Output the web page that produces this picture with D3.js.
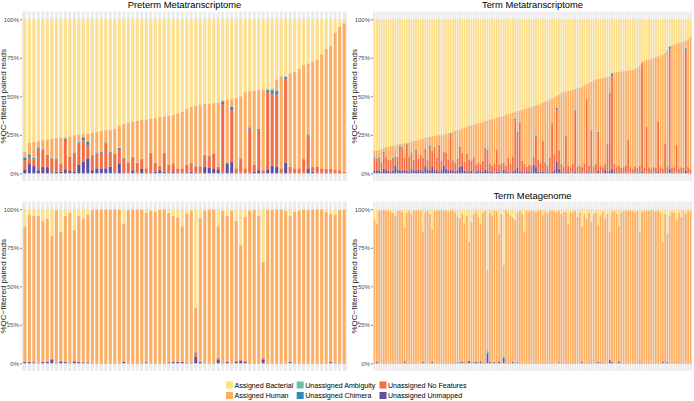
<!DOCTYPE html>
<html>
<head>
<meta charset="utf-8">
<script src="https://cdn.jsdelivr.net/npm/d3@7"></script>
<style>
  body { margin: 0; background: #fff; }
  text { font-family: "Liberation Sans", Arial, Helvetica, sans-serif; }
</style>
</head>
<body>
<svg id="chart" width="694" height="401"></svg>
<script>
// stacking order, bottom -> top
const categories = ["Unassigned Unmapped", "Unassigned No Features", "Unassigned Chimera",
  "Unassigned Ambiguity", "Assigned Human", "Assigned Bacterial"]
const legendOrder = ["Assigned Bacterial", "Assigned Human", "Unassigned Ambiguity",
  "Unassigned Chimera", "Unassigned No Features", "Unassigned Unmapped"]
const palette = {
  "Assigned Bacterial": "#FEE08B",
  "Assigned Human": "#FDAE61",
  "Unassigned Ambiguity": "#66C2A5",
  "Unassigned Chimera": "#3288BD",
  "Unassigned No Features": "#F46D43",
  "Unassigned Unmapped": "#5E4FA2"
}
const yTicks = [0, 25, 50, 75, 100]

// Preterm Metatranscriptome (% of reads), human = remainder
const ptBacterial = [86, 80.2, 79.6, 79.1, 78.5, 78, 77.4, 77, 76.8, 76.3, 76, 75.3, 74.8, 74.5, 74.2, 73.7, 73, 72.5, 72, 71.5,
  71, 69, 68, 67.3, 66.7, 66, 65.4, 65, 64.4, 64, 63.4, 63, 62.5, 62, 61.2, 60.2, 58, 57, 56, 55.3,
  55, 54.7, 54.4, 54, 52.5, 52.2, 51.6, 51, 50, 47.3, 46.7, 46.2, 46, 45.4, 45, 44.8, 39, 37, 36.6, 35,
  34, 32.3, 29.5, 28.6, 27.3, 26.5, 22.6, 19, 17.2, 8.6, 5, 2.5]
const ptUnmapped = [2.6, 6, 5, 2, 4.3, 4, 0.6, 1, 1, 2.6, 1.5, 1, 5.4, 7.5, 9.7, 2, 3.2, 3.2, 3.2, 4.3,
  0.6, 6.5, 0.6, 0.3, 2, 0.4, 2.8, 0.3, 0.6, 1, 2, 1, 0.4, 0.8, 0.4, 0.4, 0.6, 1, 0.4, 0.4,
  4.3, 3.7, 2.8, 2.6, 0.4, 6, 7.5, 0.6, 0.4, 0.4, 0.4, 1, 2, 0.6, 2.6, 5, 4.3, 0.4, 7, 0.4,
  0.3, 0.3, 0.4, 3.2, 1, 0.4, 0.4, 0.6, 0.4, 0.3, 0.2, 0.1]
const ptNoFeatures = [6, 4.7, 4, 14, 10.7, 7.4, 8.9, 8, 5, 18.9, 8.5, 12, 14, 14, 8.6, 9, 9.8, 10.1, 16.2, 9,
  11.9, 8.5, 9.1, 6.6, 8.3, 6.1, 6.2, 2.9, 12.4, 5.5, 2.7, 12, 5, 5.2, 2.8, 2.8, 4.8, 5.5, 3.9, 3.9,
  7.1, 7.3, 9.7, 1.7, 44.6, 1, 33.5, 2.6, 9.3, 2.8, 28.6, 4.4, 26, 1.4, 50.1, 46.6, 46.7, 2.8, 54, 3.9,
  2.9, 2.9, 8.8, 21.5, 3.3, 3.9, 2.8, 2.4, 2.4, 2.2, 1.8, 0.9]
const ptChimera = [1.5, 1.3, 0.9, 0.7, 0.5, 0.6, 0.3, 0.3, 0, 0.8, 0.5, 0.4, 0.7, 1.8, 2.2, 0.7, 0.4, 0.5, 0.6, 0.5,
  0, 1.3, 0.4, 0, 0.3, 0.3, 0.3, 0, 0.3, 0.3, 0, 0.3, 0, 0.3, 0, 0, 0, 0.3, 0.2, 0.2,
  0.4, 0.4, 0.3, 0, 1.6, 0, 2.1, 0, 0, 0, 0.7, 0, 0.7, 0, 1.3, 2.4, 2.4, 0, 1.4, 0,
  0, 0, 0, 0.5, 0, 0, 0, 0, 0, 0, 0, 0]
const ptAmbiguity = [0.6, 0.5, 0.4, 0.3, 0.2, 0.2, 0.2, 0.2, 0, 0.3, 0.2, 0.2, 0.3, 0.4, 0.4, 0.3, 0.2, 0.2, 0.2, 0.2,
  0, 0.3, 0.2, 0, 0.1, 0.2, 0.2, 0, 0.2, 0.2, 0, 0.2, 0, 0.2, 0, 0, 0, 0.2, 0.2, 0.2,
  0.2, 0.2, 0.2, 0, 0.4, 0, 0.4, 0, 0, 0, 0.3, 0, 0.3, 0, 0.4, 0.4, 0.4, 0, 0.4, 0,
  0, 0, 0, 0.2, 0, 0, 0, 0, 0, 0, 0, 0]

// Term Metatranscriptome
const trBacterial = [85.5, 85.4, 85, 84.4, 83.6, 83, 82.8, 82.2, 82, 81.8, 81.2, 80.8, 80.7, 80.2, 80, 79.8, 79.4, 78.9, 78.8, 78.3,
  78, 77.4, 77, 76.8, 76.4, 76, 75.8, 75.4, 75.2, 75.1, 74.7, 74.3, 74, 73.8, 73.1, 72.5, 71.9, 71.4, 70.9, 70.2,
  69.6, 69.3, 68.8, 68.4, 67.9, 67.5, 67.1, 66.5, 66, 65.7, 65.2, 64.7, 64.4, 64, 63.4, 63, 62.5, 61.9, 61.5, 61.1,
  60.5, 59.9, 59.6, 59.2, 58.7, 58.2, 57.9, 57.6, 57, 56.3, 55.8, 55.3, 54.6, 53.9, 53.4, 52.7, 51.9, 51.3, 50.4, 49.5,
  48.9, 48, 47.2, 46.9, 46.4, 45.9, 45.7, 45.2, 44.8, 44.5, 43.8, 42.8, 42.2, 41.2, 40.6, 39.7, 38.9, 38.7, 38.1, 37.9,
  37.7, 37.2, 36.9, 34.5, 34.4, 34.2, 34, 33.8, 33.7, 33.5, 33.2, 33, 32.8, 32.2, 31.4, 30, 27.6, 27, 26.4, 26,
  25.6, 24.9, 24.5, 24, 23.4, 23, 21.9, 20, 17.4, 17, 16.4, 16, 15.5, 14.9, 14.5, 14, 12.9, 11.4]
const trUnmapped = [1.5, 2, 1.8, 1.2, 3, 2, 1.5, 1, 1.8, 5, 2.5, 2, 1.5, 2.2, 1.8, 1.2, 2.6, 2, 1.5, 2.5,
  2, 1.2, 4.5, 2.5, 1.8, 4.3, 2.2, 1.5, 1.2, 2, 5, 3, 1.5, 2.5, 1.8, 1.2, 2, 4.3, 5, 1.8,
  1.2, 0.8, 1.5, 0.6, 1, 2, 1.3, 0.8, 2.5, 1.5, 1, 0.8, 0.6, 1.2, 0.8, 0.5, 2.5, 0.8, 1.2, 0.6,
  0.8, 1.5, 3.5, 1.2, 0.8, 0.6, 0.8, 1, 0.5, 5.5, 4, 1, 0.8, 1.2, 0.6, 0.8, 0.5, 1, 2, 7.5,
  3, 0.8, 0.6, 0.5, 0.8, 0.6, 0.5, 0.8, 0.4, 0.6, 0.5, 0.4, 0.8, 0.5, 0.6, 0.4, 0.5, 1.5, 0.6, 0.4,
  2, 0.8, 1.8, 3, 0.8, 0.5, 0.4, 0.6, 0.4, 0.5, 0.4, 0.3, 0.5, 0.4, 0.6, 0.4, 1.2, 0.5, 0.3, 0.4,
  0.5, 0.3, 0.4, 0.8, 0.4, 0.3, 0.5, 0.4, 3, 0.5, 0.4, 0.6, 0.3, 0.4, 0.5, 1.5, 0.4, 0.3]
const trNoFeatures = [8, 6.5, 8, 5.8, 10.3, 8.5, 7.5, 7.5, 7.7, 6, 8, 14.5, 14.5, 7.8, 16.7, 9.8, 10.4, 7, 13, 7,
  10, 8.8, 11, 6, 15.2, 10.2, 13.8, 8.5, 16.8, 6, 9, 10.5, 7.5, 22.2, 6.7, 5.8, 7.5, 12.2, 8, 5.7,
  11.8, 8.2, 6.5, 9.9, 4.5, 5, 4.7, 7.2, 13.5, 14, 5.5, 4.2, 5.9, 13.8, 4.7, 6, 4.5, 4.2, 8.8, 5.4,
  10.2, 32.9, 22.3, 31.1, 7.2, 5.4, 3.7, 4.5, 4.5, 5.5, 19.7, 8, 5.7, 19.2, 6.4, 4.2, 9.5, 31, 10, 33.4,
  12, 5.2, 3.9, 23.2, 4.2, 3.4, 5.5, 39.6, 4.1, 4.4, 3.5, 5.6, 46.9, 4.5, 27.4, 4.1, 5.5, 24.5, 4.4, 3.6,
  4, 18.6, 50.2, 59.8, 5.2, 3.5, 4.6, 2.9, 3.6, 4.5, 21.1, 3.7, 2.5, 4.1, 2.9, 4.6, 69.8, 3, 30.2, 3.6,
  2.5, 3.7, 3.1, 32.5, 3.6, 2.7, 18.9, 3.6, 77.6, 3, 3.6, 17.7, 2.7, 3.6, 3, 79.1, 3.6, 2.3]
const trChimera = [0.7, 0.7, 0.6, 0, 0.7, 0, 0, 0, 0.5, 0, 0, 0.8, 0.8, 0, 0.4, 0, 0.5, 0, 0.6, 0,
  0, 0, 0.5, 0, 0.8, 0, 0.8, 0, 0.4, 0, 0, 0, 0, 1.2, 0, 0, 0, 0.6, 0, 0,
  0, 0, 0, 0, 0, 0, 0, 0, 0.5, 0, 0, 0, 0, 0.4, 0, 0, 0, 0, 0, 0,
  0, 1, 0.9, 0.8, 0, 0, 0, 0, 0, 0, 0.8, 0, 0, 0.4, 0, 0, 0, 0.5, 0, 1.6,
  0, 0, 0, 0.4, 0, 0, 0, 0.5, 0, 0, 0, 0, 0.4, 0, 0, 0, 0, 0.8, 0, 0,
  0, 0, 0.4, 2, 0, 0, 0, 0, 0, 0, 0, 0, 0, 0, 0, 0, 0.4, 0, 0, 0,
  0, 0, 0, 0.3, 0, 0, 0, 0, 1.6, 0, 0, 0, 0, 0, 0, 0.7, 0, 0]
const trAmbiguity = [0.3, 0.3, 0.3, 0, 0.3, 0, 0, 0, 0.2, 0, 0, 0.3, 0.3, 0, 0.2, 0, 0.2, 0, 0.2, 0,
  0, 0, 0.2, 0, 0.3, 0, 0.3, 0, 0.2, 0, 0, 0, 0, 0.3, 0, 0, 0, 0.3, 0, 0,
  0, 0, 0, 0, 0, 0, 0, 0, 0.2, 0, 0, 0, 0, 0.2, 0, 0, 0, 0, 0, 0,
  0, 0.3, 0.3, 0.3, 0, 0, 0, 0, 0, 0, 0.3, 0, 0, 0.2, 0, 0, 0, 0.2, 0, 0.4,
  0, 0, 0, 0.2, 0, 0, 0, 0.2, 0, 0, 0, 0, 0.2, 0, 0, 0, 0, 0.3, 0, 0,
  0, 0, 0.2, 0.5, 0, 0, 0, 0, 0, 0, 0, 0, 0, 0, 0, 0, 0.2, 0, 0, 0,
  0, 0, 0, 0.1, 0, 0, 0, 0, 0.3, 0, 0, 0, 0, 0, 0, 0.2, 0, 0]

// Preterm Metagenome (untitled panel)
const pgBacterial = [11.4, 3.5, 4.3, 4.5, 7.6, 6, 17.3, 0.6, 14.7, 4.3, 2.4, 13.6, 4.5, 6, 3.5, 0.6, 0.2, 0.2, 0.2, 0.2,
  0.2, 0.2, 9.3, 0.6, 0.2, 0.2, 0.2, 2.4, 1.2, 1.7, 0.6, 0.2, 2.4, 4.3, 5.4, 11, 2.8, 1, 63.7, 5.4,
  1, 0.2, 0.2, 11, 1, 4.3, 1, 7.6, 23.3, 5, 1, 0.6, 4.3, 34.1, 0.6, 0.2, 0.2, 0.2, 1, 4.3,
  1.7, 1, 0.2, 0.6, 0.2, 0.2, 0.2, 1.7, 2.8, 3.5, 0.6, 0.2]
const pgUnmapped = [0.8, 0.8, 0.6, 0.3, 0.8, 1, 2.5, 0.3, 1.2, 0.8, 0.4, 1.2, 0.8, 0.6, 0.6, 0.2, 0.2, 0.2, 0.2, 0.2,
  0.2, 0.2, 1, 0.2, 0.2, 0.2, 0.2, 0.6, 0.2, 0.2, 0.2, 0.2, 0.6, 0.8, 0.8, 0.8, 0.4, 0.3, 4.3, 0.8,
  0.3, 0.2, 0.2, 2.5, 0.3, 0.8, 0.2, 1, 1.5, 1, 0.3, 0.2, 0.2, 2.5, 0.2, 0.2, 0.2, 0.2, 0.2, 0.8,
  0.2, 0.2, 0.2, 0.2, 0.2, 0.2, 0.2, 0.2, 0.8, 0.4, 0.2, 0.2]
const pgNoFeatures = [0.2, 0.2, 0.2, 0.1, 0.2, 0.2, 0.4, 0.1, 0.2, 0.2, 0.1, 0.2, 0.2, 0.1, 0.1, 0.1, 0.1, 0.1, 0.1, 0.1,
  0.1, 0.1, 0.2, 0.1, 0.1, 0.1, 0.1, 0.1, 0.1, 0.1, 0.1, 0.1, 0.1, 0.2, 0.2, 0.2, 0.1, 0.1, 2.5, 0.2,
  0.1, 0.1, 0.1, 1, 0.1, 0.2, 0.1, 0.4, 0.5, 0.2, 0.1, 0.1, 0.1, 1, 0.1, 0.1, 0.1, 0.1, 0.1, 0.2,
  0.1, 0.1, 0.1, 0.1, 0.1, 0.1, 0.1, 0.1, 0.2, 0.1, 0.1, 0.1]
const pgChimera = [0, 0, 0, 0, 0, 0, 0, 0, 0, 0, 0, 0, 0, 0, 0, 0, 0, 0, 0, 0,
  0, 0, 0, 0, 0, 0, 0, 0, 0, 0, 0, 0, 0, 0, 0, 0, 0, 0, 0.3, 0,
  0, 0, 0, 0, 0, 0, 0, 0, 0, 0, 0, 0, 0, 0, 0, 0, 0, 0, 0, 0,
  0, 0, 0, 0, 0, 0, 0, 0, 0, 0, 0, 0]
const pgAmbiguity = [0, 0, 0, 0, 0, 0, 0, 0, 0, 0, 0, 0, 0, 0, 0, 0, 0, 0, 0, 0,
  0, 0, 0, 0, 0, 0, 0, 0, 0, 0, 0, 0, 0, 0, 0, 0, 0, 0, 0.6, 0,
  0, 0, 0, 0.2, 0, 0, 0, 0, 0, 0, 0, 0, 0, 0.2, 0, 0, 0, 0, 0, 0,
  0, 0, 0, 0, 0, 0, 0, 0, 0, 0, 0, 0]

// Term Metagenome
const tgBacterial = [7.1, 9.3, 1, 0.8, 0.5, 1.2, 0.6, 1.5, 2, 4, 1, 0.8, 1.5, 12, 2.5, 1, 3, 0.8, 1.2, 0.6,
  1, 14.7, 2, 1.2, 3, 13.2, 1, 0.8, 1.2, 0.6, 1, 0.8, 1.5, 0.6, 1, 2, 5, 6, 3, 9.3,
  4, 21.2, 8, 3, 1.5, 5, 9.3, 2, 1, 39.5, 2.5, 4, 1, 1.5, 15.8, 3, 36.3, 1, 2.5, 4,
  5.5, 7.1, 2, 1, 3, 14.7, 1, 1.5, 0.8, 1.2, 2, 1, 0.6, 4, 1.5, 2.5, 1, 0.8, 1.2, 2,
  1, 3, 1.5, 2, 9.3, 1.5, 2, 1, 5, 2, 11.4, 3, 6, 2, 8.2, 3, 2, 10.4, 4, 1.5,
  6, 3, 14.7, 2, 1, 3, 10.4, 2, 1, 1.5, 0.8, 1, 1.2, 2, 1, 14.7, 2, 1, 0.8, 1.2,
  0.6, 1, 1.5, 0.8, 2, 21.2, 3, 15.8, 4, 1.5, 2, 7.1, 2, 5, 1.5, 3, 1, 1.5]
const tgUnmapped = [0.3, 1, 0.2, 0.2, 0.2, 0.2, 0.2, 0.2, 0.2, 0.2, 0.2, 0.2, 0.2, 1.2, 0.2, 0.2, 0.2, 0.2, 0.2, 0.2,
  0.2, 0.8, 0.2, 0.2, 0.2, 1, 0.2, 0.2, 0.2, 0.2, 0.2, 0.2, 0.2, 0.2, 0.2, 0.2, 0.6, 0.5, 1, 0.6,
  0.5, 1.5, 0.5, 0.6, 1, 0.4, 1.2, 0.3, 0.3, 6.5, 0.8, 0.3, 0.8, 0.3, 1.2, 0.3, 3.5, 0.2, 0.2, 0.3,
  0.8, 0.2, 0.6, 0.2, 0.2, 0.2, 0.2, 0.2, 0.2, 0.2, 0.2, 0.2, 0.2, 0.2, 0.2, 0.2, 0.2, 0.2, 0.2, 0.2,
  0.6, 0.2, 0.2, 0.2, 0.3, 0.2, 0.2, 0.2, 0.2, 0.2, 0.8, 0.2, 0.3, 0.2, 0.5, 0.2, 0.2, 0.8, 0.6, 0.2,
  0.2, 0.2, 2, 0.8, 0.2, 0.2, 1.2, 0.2, 0.2, 0.2, 0.2, 0.2, 0.2, 0.2, 0.2, 0.6, 0.2, 0.2, 0.2, 0.2,
  0.2, 0.2, 0.2, 0.2, 0.2, 1.2, 0.2, 0.8, 0.2, 0.2, 0.2, 0.6, 0.2, 0.2, 0.2, 0.2, 0.2, 0.2]
const tgNoFeatures = [0.1, 0.1, 0.1, 0.1, 0.1, 0.1, 0.1, 0.1, 0.1, 0.1, 0.1, 0.1, 0.1, 0.1, 0.1, 0.1, 0.1, 0.1, 0.1, 0.1,
  0.1, 0.1, 0.1, 0.1, 0.1, 0.1, 0.1, 0.1, 0.1, 0.1, 0.1, 0.1, 0.1, 0.1, 0.1, 0.1, 0.1, 0.1, 0.1, 0.1,
  0.1, 0.1, 0.1, 0.1, 0.1, 0.1, 0.1, 0.1, 0.1, 0.5, 0.1, 0.1, 0.1, 0.1, 0.1, 0.1, 0.3, 0.1, 0.1, 0.1,
  0.1, 0.1, 0.1, 0.1, 0.1, 0.1, 0.1, 0.1, 0.1, 0.1, 0.1, 0.1, 0.1, 0.1, 0.1, 0.1, 0.1, 0.1, 0.1, 0.1,
  0.1, 0.1, 0.1, 0.1, 0.1, 0.1, 0.1, 0.1, 0.1, 0.1, 0.1, 0.1, 0.1, 0.1, 0.1, 0.1, 0.1, 0.1, 0.1, 0.1,
  0.1, 0.1, 0.1, 0.1, 0.1, 0.1, 0.1, 0.1, 0.1, 0.1, 0.1, 0.1, 0.1, 0.1, 0.1, 0.1, 0.1, 0.1, 0.1, 0.1,
  0.1, 0.1, 0.1, 0.1, 0.1, 0.1, 0.1, 0.1, 0.1, 0.1, 0.1, 0.1, 0.1, 0.1, 0.1, 0.1, 0.1, 0.1]
const tgChimera = [0, 0, 0, 0, 0, 0, 0, 0, 0, 0, 0, 0, 0, 0, 0, 0, 0, 0, 0, 0,
  0, 0, 0, 0, 0, 0, 0, 0, 0, 0, 0, 0, 0, 0, 0, 0, 0, 0, 0, 0,
  0, 0, 0, 0, 0, 0, 0, 0, 0, 0.3, 0, 0, 0, 0, 0, 0, 0, 0, 0, 0,
  0, 0, 0, 0, 0, 0, 0, 0, 0, 0, 0, 0, 0, 0, 0, 0, 0, 0, 0, 0,
  0, 0, 0, 0, 0, 0, 0, 0, 0, 0, 0, 0, 0, 0, 0, 0, 0, 0, 0, 0,
  0, 0, 0, 0, 0, 0, 0, 0, 0, 0, 0, 0, 0, 0, 0, 0, 0, 0, 0, 0,
  0, 0, 0, 0, 0, 0, 0, 0, 0, 0, 0, 0, 0, 0, 0, 0, 0, 0]
const tgAmbiguity = [0, 0, 0, 0, 0, 0, 0, 0, 0, 0, 0, 0, 0, 0, 0, 0, 0, 0, 0, 0,
  0, 0, 0, 0, 0, 0, 0, 0, 0, 0, 0, 0, 0, 0, 0, 0, 0, 0, 0, 0,
  0, 0, 0, 0, 0, 0, 0, 0, 0, 1.2, 0, 0, 0, 0, 0, 0, 0.8, 0, 0, 0,
  0, 0, 0, 0, 0, 0, 0, 0, 0, 0, 0, 0, 0, 0, 0, 0, 0, 0, 0, 0,
  0, 0, 0, 0, 0, 0, 0, 0, 0, 0, 0, 0, 0, 0, 0, 0, 0, 0, 0, 0,
  0, 0, 0.3, 0, 0, 0, 0, 0, 0, 0, 0, 0, 0, 0, 0, 0, 0, 0, 0, 0,
  0, 0, 0, 0, 0, 0, 0, 0, 0, 0, 0, 0, 0, 0, 0, 0, 0, 0]

function buildRows(unm, nof, chi, amb, bac) {
  return bac.map((b, i) => {
    const r = {
      "Unassigned Unmapped": unm[i],
      "Unassigned No Features": nof[i],
      "Unassigned Chimera": chi[i],
      "Unassigned Ambiguity": amb[i],
      "Assigned Bacterial": b
    }
    r["Assigned Human"] = Math.max(0, 100 - unm[i] - nof[i] - chi[i] - amb[i] - b)
    return r
  })
}

const panels = [
  { title: 'Preterm Metatranscriptome', x0: 22, x1: 347, y0: 11.6, y1: 181, titleY: 8, gap: 0.33,
    rows: buildRows(ptUnmapped, ptNoFeatures, ptChimera, ptAmbiguity, ptBacterial) },
  { title: 'Term Metatranscriptome', x0: 373, x1: 692, y0: 11.6, y1: 181, titleY: 8, gap: 0.26,
    rows: buildRows(trUnmapped, trNoFeatures, trChimera, trAmbiguity, trBacterial) },
  { title: '', x0: 22, x1: 347, y0: 201.5, y1: 371, titleY: 198.5, gap: 0.33,
    rows: buildRows(pgUnmapped, pgNoFeatures, pgChimera, pgAmbiguity, pgBacterial) },
  { title: 'Term Metagenome', x0: 373, x1: 692, y0: 201.5, y1: 371, titleY: 198.5, gap: 0.26,
    rows: buildRows(tgUnmapped, tgNoFeatures, tgChimera, tgAmbiguity, tgBacterial) }
]

const svg = d3.select('#chart')

panels.forEach((p) => {
  const n = p.rows.length
  const x = d3.scaleBand().domain(d3.range(n)).range([p.x0, p.x1])
    .paddingInner(p.gap).paddingOuter(0.3)
  const y = d3.scaleLinear().domain([-5, 105]).range([p.y1, p.y0])
  const g = svg.append('g')

  g.append('rect')
    .attr('x', p.x0).attr('y', p.y0)
    .attr('width', p.x1 - p.x0).attr('height', p.y1 - p.y0)
    .attr('fill', '#EBEBEB')

  // white gaps between columns run the full panel height
  g.selectAll('.gap').data(d3.range(n - 1)).join('rect')
    .attr('class', 'gap')
    .attr('x', (i) => x(i) + x.bandwidth())
    .attr('width', x.step() - x.bandwidth())
    .attr('y', p.y0).attr('height', p.y1 - p.y0)
    .attr('fill', '#fff')

  const stacked = d3.stack().keys(categories)(p.rows)
  g.selectAll('.layer').data(stacked).join('g')
    .attr('class', 'layer')
    .attr('fill', (s) => palette[s.key])
    .selectAll('rect').data((s) => s).join('rect')
    .attr('x', (d, i) => x(i))
    .attr('width', x.bandwidth())
    .attr('y', (d) => y(d[1]))
    .attr('height', (d) => Math.max(0, y(d[0]) - y(d[1])))

  const axis = d3.axisLeft(y).tickValues(yTicks).tickFormat((d) => d + '%')
    .tickSize(2).tickPadding(1)
  const ag = g.append('g').attr('transform', `translate(${p.x0},0)`).call(axis)
  ag.select('.domain').remove()
  ag.selectAll('line').attr('stroke', '#333').attr('stroke-width', 0.6)
  ag.selectAll('text').attr('font-size', 6).attr('fill', '#4D4D4D')
    .style('font-family', '"Liberation Sans", Arial, sans-serif')

  g.append('text')
    .attr('transform', `translate(${p.x0 - 16},${(y(0) + y(100)) / 2}) rotate(-90)`)
    .attr('text-anchor', 'middle')
    .attr('font-size', 8)
    .attr('fill', '#1A1A1A')
    .text('%QC\u2212filtered paired reads')

  if (p.title) {
    g.append('text')
      .attr('x', (p.x0 + p.x1) / 2).attr('y', p.titleY)
      .attr('text-anchor', 'middle')
      .attr('font-size', 9.4)
      .attr('fill', '#000')
      .text(p.title)
  }
})

// legend, 3 columns x 2 rows
const legendCols = [226, 296.7, 379.5]
const legendRows = [381.5, 392]
const lg = svg.append('g')
legendOrder.forEach((key, i) => {
  const cx = legendCols[Math.floor(i / 2)]
  const cy = legendRows[i % 2]
  lg.append('rect').attr('x', cx).attr('y', cy).attr('width', 7).attr('height', 7)
    .attr('fill', palette[key])
  lg.append('text').attr('x', cx + 8.5).attr('y', cy + 6.3)
    .attr('font-size', 7.1).attr('fill', '#000').text(key)
})
</script>
</body>
</html>
